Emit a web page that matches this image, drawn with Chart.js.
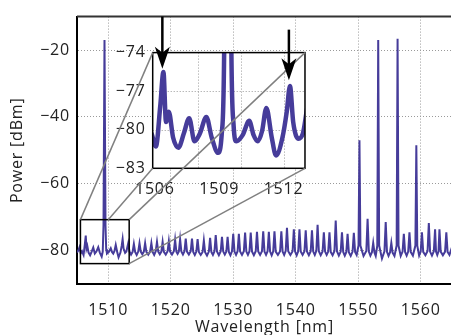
<!DOCTYPE html>
<html><head><meta charset="utf-8">
<script src="https://cdn.jsdelivr.net/npm/chart.js@4"></script>
<style>
html,body{margin:0;padding:0;background:#fff;overflow:hidden;width:451px;height:335px}
#wrap{position:relative;width:451px;height:335px;overflow:hidden}
canvas{position:absolute}
</style></head><body>
<div id="wrap">
<canvas id="main" width="456" height="335" style="left:0;top:0"></canvas>
<canvas id="inset" width="215" height="165" style="left:100px;top:36px"></canvas>
<canvas id="over" width="451" height="335" style="left:0;top:0"></canvas>
</div>
<script>
// ---- data ----
const wavelength = [
1505.0,1505.2,1505.4,1505.6,1505.8,1506.05,1506.25,1506.4,1506.52,1506.65,1506.85,1507.1,1507.35,1507.6,1507.85,
1508.1,1508.4,1508.65,1508.95,1509.12,1509.24,1509.4,1509.56,1509.67,1509.8,1510.1,1510.4,1510.6,1510.8,1511.0,
1511.2,1511.45,1511.65,1511.95,1512.15,1512.3,1512.45,1512.7,1512.9,
1513.2,1513.4,1513.65,
1513.9,1514.1,1514.3,1514.55,  1514.8,1515.0,1515.2,1515.45,  1515.7,1515.9,1516.1,1516.4,  1516.7,1516.9,1517.1,1517.35,
1517.6,1517.8,1518.0,1518.25,  1518.5,1518.7,1518.9,1519.2,  1519.5,1519.7,1519.9,1520.2,  1520.5,1520.7,1520.9,1521.1,
1521.3,1521.5,1521.7,1521.95,  1522.2,1522.4,1522.6,1522.9,  1523.2,1523.4,1523.6,1523.85,  1524.1,1524.3,1524.5,1524.8,
1525.1,1525.3,1525.5,1525.8,  1526.1,1526.3,1526.5,1526.75,  1527.0,1527.2,1527.4,1527.7,  1528.0,1528.2,1528.4,1528.65,
1528.9,1529.1,1529.3,1529.55,  1529.8,1530.0,1530.2,1530.45,  1530.7,1530.9,1531.1,1531.4,  1531.7,1531.9,1532.1,1532.35,
1532.6,1532.8,1533.0,1533.3,  1533.6,1533.8,1534.0,1534.3,  1534.6,1534.8,1535.0,1535.25,  1535.5,1535.7,1535.9,1536.15,
1536.4,1536.6,1536.8,1537.15,  1537.5,1537.7,1537.9,1538.15,  1538.4,1538.6,1538.8,1539.15,  1539.5,1539.7,1539.9,1540.15,
1540.4,1540.6,1540.8,1541.1,  1541.4,1541.6,1541.8,1542.1,  1542.4,1542.6,1542.8,1543.05,  1543.3,1543.5,1543.7,1544.0,
1544.3,1544.5,1544.7,1544.95,  1545.2,1545.4,1545.6,1545.9,  1546.2,1546.4,1546.6,1546.9,  1547.2,1547.4,1547.6,1547.85,
1548.1,1548.3,1548.5,1548.8,  1549.1,1549.3,1549.5,1549.75,  1550.05,1550.2,1550.35,1550.85,  1551.3,1551.5,1551.7,1551.95,
1552.2,1552.4,1552.6,1552.8,  1553.05,1553.2,1553.35,1553.8,  1554.2,1554.4,1554.6,1554.85,  1555.1,1555.3,1555.5,1555.8,
1556.15,1556.3,1556.45,1556.8,  1557.1,1557.3,1557.5,1557.75,  1558.0,1558.2,1558.4,1558.75,  1559.15,1559.3,1559.45,1559.75,
1560.0,1560.2,1560.4,1560.75,  1561.1,1561.3,1561.5,1561.8,  1562.1,1562.3,1562.45,1562.65,  1562.85,1563.0,1563.2,1563.55,
1563.9,1564.1,1564.3,1564.6,  1565.0];
const power = [
-80.6,-80.0,-79.0,-80.8,-80.2,-81.3,-78.2,-75.5,-79.4,-78.6,-80.6,-81.4,-80.3,-79.1,-80.9,
-80.3,-79.0,-80.6,-81.8,-80.3,-72.5,-17.0,-72.5,-79.6,-80.9,-80.4,-79.3,-80.4,-80.9,-80.1,
-78.3,-80.6,-82.0,-80.6,-78.6,-76.6,-79.4,-80.7,-80.3,
-77.8,-80.3,-81.2,
-80.4,-78.0,-80.4,-81.3,  -80.3,-77.8,-80.3,-81.1,  -80.3,-77.8,-80.4,-81.2,  -80.3,-77.8,-80.4,-81.3,
-80.2,-77.4,-80.3,-81.1,  -80.3,-77.4,-80.4,-81.2,  -80.2,-77.2,-80.3,-81.2,  -80.2,-76.8,-80.3,-81.0,
-80.3,-76.6,-80.3,-81.2,  -80.2,-76.4,-80.3,-81.2,  -80.2,-76.4,-80.4,-81.3,  -80.3,-76.6,-80.4,-81.3,
-80.4,-77.0,-80.5,-81.5,  -80.3,-76.2,-80.4,-81.3,  -80.2,-75.4,-80.3,-81.4,  -80.2,-75.9,-80.3,-81.2,
-80.3,-75.9,-80.4,-81.4,  -80.2,-75.0,-80.3,-81.3,  -80.2,-75.0,-80.3,-81.3,  -80.2,-74.6,-80.3,-81.3,
-80.2,-74.6,-80.3,-81.4,  -80.2,-74.4,-80.3,-81.3,  -80.2,-74.2,-80.3,-81.3,  -80.2,-74.4,-80.3,-81.4,
-80.2,-74.2,-80.3,-81.3,  -80.2,-74.2,-80.3,-81.3,  -80.1,-73.2,-80.2,-81.3,  -80.2,-73.6,-80.3,-81.4,
-80.2,-73.6,-80.3,-81.3,  -80.2,-73.9,-80.3,-81.4,  -80.2,-73.9,-80.3,-81.3,  -80.1,-72.3,-80.2,-81.4,
-80.3,-74.5,-80.3,-81.3,  -80.3,-74.5,-80.4,-81.4,  -80.1,-71.0,-80.2,-81.5,  -80.3,-74.5,-80.4,-81.5,
-80.4,-75.0,-80.5,-81.6,  -80.3,-74.7,-80.4,-81.3,  -78.5,-47.0,-78.5,-81.6,  -80.1,-70.5,-80.3,-81.5,
-80.5,-77.7,-80.6,-81.6,  -78.5,-17.0,-78.5,-82.4,  -80.2,-71.5,-80.4,-81.6,  -80.5,-77.7,-80.6,-81.6,
-78.5,-16.6,-78.5,-81.6,  -80.3,-75.0,-80.4,-81.5,  -80.3,-74.5,-80.4,-81.5,  -78.5,-48.5,-78.5,-81.5,
-80.3,-74.5,-80.4,-81.4,  -80.1,-71.8,-80.3,-81.5,  -80.2,-73.6,-80.3,-81.3,  -80.2,-73.6,-80.3,-81.4,
-80.3,-74.5,-80.4,-81.3,  -79.0];

const xTicks = [1510, 1520, 1530, 1540, 1550, 1560];
const yTicks = [-80, -60, -40, -20];
const xRange = [1505, 1565];
const yRange = [-90, -10];

const insetXRange = [1505.9, 1513];
const insetYRange = [-83, -74];
const insetXTicks = [1506, 1509, 1512];
const insetYTicks = [-83, -80, -77, -74];
const insetGridX = [1508, 1510, 1512];
const insetGridY = [-80, -77];

const zoomBoxX = [1505.55, 1513.35];
const zoomBoxY = [-70.75, -83.9];
const zoomLinkX = 1510.0;

const arrowX = [1506.35, 1512.25];     // inset wavelength
const arrowTip = [-75.25, -76.15];     // inset dBm
const arrowTail = [-10, -13.9];        // main dBm

// ---- styles ----
const lineColor = '#463c9a';
const textColor = '#222';
const FONT = {family: "'Open Sans', sans-serif", size: 16};
const fmt = v => String(v).replace('-', '\u2212');
const insetLeft = 100, insetTop = 36;

const pts = wavelength.map((w, i) => ({x: w, y: power[i]}));

const spacing = {
  id: 'spacing',
  beforeDraw(c) { c.ctx.letterSpacing = '0.8px'; }
};

const mainDeco = {
  id: 'mainDeco',
  afterDraw(c) {
    const ctx = c.ctx, a = c.chartArea, sx = c.scales.x, sy = c.scales.y;
    ctx.save();
    ctx.strokeStyle = '#333'; ctx.lineWidth = 2;
    ctx.beginPath(); ctx.moveTo(a.left, a.top); ctx.lineTo(a.right, a.top); ctx.stroke();
    const x0 = sx.getPixelForValue(zoomBoxX[0]), x1 = sx.getPixelForValue(zoomBoxX[1]);
    const y0 = sy.getPixelForValue(zoomBoxY[0]), y1 = sy.getPixelForValue(zoomBoxY[1]);
    ctx.strokeStyle = '#000'; ctx.lineWidth = 1.5;
    ctx.strokeRect(x0, y0, x1 - x0, y1 - y0);
    ctx.restore();
  }
};

const mainChart = new Chart(document.getElementById('main'), {
  type: 'line',
  data: {datasets: [{data: pts, borderColor: lineColor, borderWidth: 2, pointRadius: 0, tension: 0, clip: 0}]},
  options: {
    responsive: false, animation: false, events: [],
    layout: {padding: {top: 11, left: 0, right: 0, bottom: 0}},
    plugins: {legend: {display: false}, tooltip: {enabled: false}},
    scales: {
      x: {
        type: 'linear', min: xRange[0], max: xRange[1],
        afterBuildTicks: s => { s.ticks = xTicks.map(v => ({value: v})); },
        afterFit: s => { s.height = 51; },
        grid: {color: '#9a9a9a', lineWidth: 1, drawTicks: false},
        border: {display: true, color: '#000', width: 2, dash: [1, 2]},
        ticks: {font: FONT, color: textColor, padding: 17, maxRotation: 0, autoSkip: false, callback: fmt},
        title: {display: true, text: 'Wavelength [nm]', font: FONT, color: textColor, padding: {top: 0, bottom: -2}}
      },
      y: {
        type: 'linear', min: yRange[0], max: yRange[1],
        afterBuildTicks: s => { s.ticks = yTicks.map(v => ({value: v})); },
        afterFit: s => { s.width = 77; },
        grid: {color: '#9a9a9a', lineWidth: 1, drawTicks: false},
        border: {display: true, color: '#000', width: 2, dash: [1, 2]},
        ticks: {font: FONT, color: textColor, padding: 7, callback: fmt},
        title: {display: true, text: 'Power [dBm]', font: FONT, color: textColor, padding: {top: 8, bottom: 0}}
      }
    }
  },
  plugins: [spacing, mainDeco]
});

const insetDeco = {
  id: 'insetDeco',
  beforeDraw(c) {
    const a = c.chartArea, ctx = c.ctx;
    ctx.save(); ctx.fillStyle = '#fff';
    ctx.fillRect(a.left, a.top, a.right - a.left, a.bottom - a.top);
    ctx.restore();
  },
  beforeDatasetsDraw(c) {
    const a = c.chartArea, ctx = c.ctx, sx = c.scales.x, sy = c.scales.y;
    ctx.save();
    ctx.strokeStyle = '#9a9a9a'; ctx.lineWidth = 1; ctx.setLineDash([1, 2]);
    insetGridX.forEach(v => { const p = Math.round(sx.getPixelForValue(v)) + 0.5; ctx.beginPath(); ctx.moveTo(p, a.top); ctx.lineTo(p, a.bottom); ctx.stroke(); });
    insetGridY.forEach(v => { const p = Math.round(sy.getPixelForValue(v)) + 0.5; ctx.beginPath(); ctx.moveTo(a.left, p); ctx.lineTo(a.right, p); ctx.stroke(); });
    ctx.restore();
  },
  afterDraw(c) {
    const a = c.chartArea, ctx = c.ctx;
    ctx.save(); ctx.strokeStyle = '#000'; ctx.lineWidth = 1.5;
    ctx.strokeRect(a.left, a.top, a.right - a.left, a.bottom - a.top);
    ctx.restore();
  }
};

const insetChart = new Chart(document.getElementById('inset'), {
  type: 'line',
  data: {datasets: [{data: pts, borderColor: lineColor, borderWidth: 4.5, pointRadius: 0, cubicInterpolationMode: 'monotone', clip: 0, borderJoinStyle: 'round'}]},
  options: {
    responsive: false, animation: false, events: [],
    layout: {padding: {top: 12.3, left: 0, right: 8.3, bottom: 0}},
    plugins: {legend: {display: false}, tooltip: {enabled: false}},
    scales: {
      x: {
        type: 'linear', min: insetXRange[0], max: insetXRange[1],
        afterBuildTicks: s => { s.ticks = insetXTicks.map(v => ({value: v})); },
        afterFit: s => { s.height = 32.7; },
        grid: {display: false, drawTicks: false},
        border: {display: false},
        ticks: {font: FONT, color: textColor, padding: 12, maxRotation: 0, autoSkip: false, callback: fmt}
      },
      y: {
        type: 'linear', min: insetYRange[0], max: insetYRange[1],
        afterBuildTicks: s => { s.ticks = insetYTicks.map(v => ({value: v})); },
        afterFit: s => { s.width = 52.7; },
        grid: {display: false, drawTicks: false},
        border: {display: false},
        ticks: {font: FONT, color: textColor, padding: 7, callback: fmt}
      }
    }
  },
  plugins: [spacing, insetDeco]
});

(function drawOverlay() {
  const ctx = document.getElementById('over').getContext('2d');
  const mx = mainChart.scales.x, my = mainChart.scales.y;
  const ix = insetChart.scales.x, iy = insetChart.scales.y;
  const a = insetChart.chartArea;
  const L = insetLeft + a.left, R = insetLeft + a.right, T = insetTop + a.top, B = insetTop + a.bottom;
  const bx0 = mx.getPixelForValue(zoomBoxX[0]), bx1 = mx.getPixelForValue(zoomBoxX[1]);
  const by0 = my.getPixelForValue(zoomBoxY[0]), by1 = my.getPixelForValue(zoomBoxY[1]);
  const bm = mx.getPixelForValue(zoomLinkX);
  const seg = (x1, y1, x2, y2) => { ctx.beginPath(); ctx.moveTo(x1, y1); ctx.lineTo(x2, y2); ctx.stroke(); };
  ctx.strokeStyle = '#808080'; ctx.lineWidth = 1.5;
  seg(bx0, by0, L, T);
  seg(bm, by0, L, B);
  seg(bx1, by0, R, T);
  seg(bx1, by1, R, B);
  ctx.strokeStyle = '#000'; ctx.fillStyle = '#000'; ctx.lineWidth = 2.5;
  arrowX.forEach((w, i) => {
    const x = insetLeft + ix.getPixelForValue(w);
    const y0 = my.getPixelForValue(arrowTail[i]);
    const y1 = insetTop + iy.getPixelForValue(arrowTip[i]);
    seg(x, y0, x, y1 - 12);
    ctx.beginPath();
    ctx.moveTo(x, y1);
    ctx.lineTo(x - 7.5, y1 - 22);
    ctx.lineTo(x, y1 - 16);
    ctx.lineTo(x + 7.5, y1 - 22);
    ctx.closePath(); ctx.fill();
  });
})();
</script>
</body></html>
